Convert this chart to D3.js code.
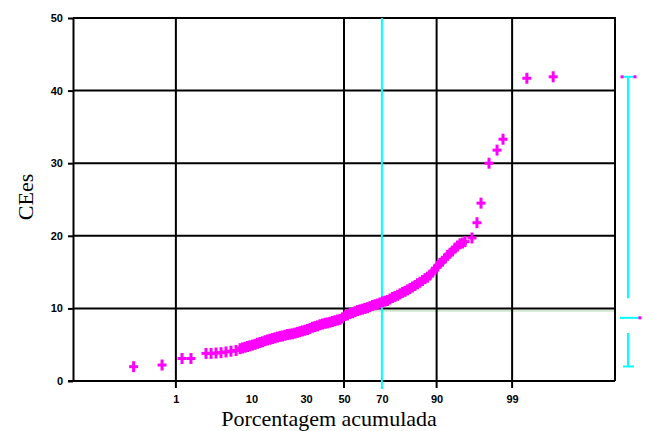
<!DOCTYPE html>
<html><head><meta charset="utf-8">
<script src="https://cdn.jsdelivr.net/npm/d3@7"></script>
<style>body{margin:0;background:#fff}svg{display:block}</style>
</head><body><svg id="c" width="651" height="431"></svg>
<script>
// ---- data ----
const yTicks = [0, 10, 20, 30, 40, 50];
const xLabelPct = [1, 10, 30, 50, 70, 90, 99];
const xLabels = ["1", "10", "30", "50", "70", "90", "99"];
const xGridPct = [1, 50, 90, 99];
const refPct = 70;                         // cyan reference line
const cumPct = [0.18, 0.59, 1.25, 1.71, 2.81, 3.29, 3.83, 4.44, 5.12, 5.89, 6.76,
  7.51, 8.01, 8.53, 9.09, 9.66, 10.27, 10.91, 11.57, 12.26, 12.97, 13.72, 14.49,
  15.29, 16.12, 16.98, 17.87, 18.79, 19.74, 20.72, 21.72, 22.75, 23.81, 24.89, 26.00,
  27.13, 28.29, 29.47, 30.68, 31.90, 33.15, 34.42, 35.69, 36.99, 38.30, 39.63, 40.97,
  42.31, 43.68, 45.03, 46.42, 47.81, 49.17, 50.55, 51.93, 53.31, 54.68, 56.05, 57.41,
  58.76, 60.10, 61.43, 62.75, 64.04, 65.34, 66.60, 67.85, 69.08, 70.29, 71.47, 72.64,
  73.77, 74.89, 75.98, 77.04, 78.08, 79.09, 80.07, 81.02, 81.94, 82.84, 83.70, 84.54,
  85.36, 86.13, 86.89, 87.60, 88.30, 88.96, 89.60, 90.21, 90.79, 91.36, 91.89, 92.39,
  92.88, 93.34, 93.77, 94.19, 94.58, 94.95, 95.30, 96.17, 96.71,
  97.10, 97.76, 98.29, 98.61, 99.43, 99.81];
const values = [1.97, 2.2, 3.1, 3.1, 3.8, 3.8, 3.85, 3.9, 4.0, 4.1, 4.2,
  4.45, 4.55, 4.65, 4.75, 4.85, 4.95, 5.05, 5.2, 5.3, 5.4, 5.55, 5.65,
  5.75, 5.85, 5.95, 6.05, 6.15, 6.2, 6.3, 6.4, 6.45, 6.5, 6.6, 6.7,
  6.8, 6.9, 7.0, 7.1, 7.25, 7.4, 7.5, 7.6, 7.75, 7.85, 7.95, 8.0,
  8.1, 8.2, 8.3, 8.4, 8.5, 8.7, 9.0, 9.1, 9.3, 9.4, 9.55, 9.7,
  9.8, 9.9, 10.0, 10.1, 10.25, 10.4, 10.5, 10.6, 10.75, 10.9, 11.0, 11.1,
  11.3, 11.5, 11.65, 11.8, 12.0, 12.2, 12.35, 12.55, 12.75, 12.95, 13.15, 13.4,
  13.6, 13.85, 14.1, 14.3, 14.6, 15.0, 15.4, 15.8, 16.2, 16.5, 16.9, 17.3,
  17.6, 17.9, 18.3, 18.6, 18.9, 19.0, 19.2, 19.7, 21.8,
  24.5, 30.0, 31.8, 33.3, 41.7, 41.9];
const rangeHi = 41.9, rangeLo = 2.0, rangeMid = 8.7, gapHi = 11.4, gapLo = 6.6;
const medianLine = 9.9;

// ---- probability scale helper (inverse normal CDF, Acklam) ----
function probit(p) {
  const a = [-3.969683028665376e+01, 2.209460984245205e+02, -2.759285104469687e+02, 1.383577518672690e+02, -3.066479806614716e+01, 2.506628277459239e+00];
  const b = [-5.447609879822406e+01, 1.615858368580409e+02, -1.556989798598866e+02, 6.680131188771972e+01, -1.328068155288572e+01];
  const c = [-7.784894002430293e-03, -3.223964580411365e-01, -2.400758277161838e+00, -2.549732539343734e+00, 4.374664141464968e+00, 2.938163982698783e+00];
  const d = [7.784695709041462e-03, 3.224671290700398e-01, 2.445134137142996e+00, 3.754408661907416e+00];
  const pl = 0.02425;
  let q, r;
  if (p < pl) {
    q = Math.sqrt(-2 * Math.log(p));
    return (((((c[0]*q+c[1])*q+c[2])*q+c[3])*q+c[4])*q+c[5]) / ((((d[0]*q+d[1])*q+d[2])*q+d[3])*q+1);
  } else if (p <= 1 - pl) {
    q = p - 0.5; r = q * q;
    return (((((a[0]*r+a[1])*r+a[2])*r+a[3])*r+a[4])*r+a[5])*q / (((((b[0]*r+b[1])*r+b[2])*r+b[3])*r+b[4])*r+1);
  } else {
    q = Math.sqrt(-2 * Math.log(1 - p));
    return -(((((c[0]*q+c[1])*q+c[2])*q+c[3])*q+c[4])*q+c[5]) / ((((d[0]*q+d[1])*q+d[2])*q+d[3])*q+1);
  }
}

const L = 73, R = 615, T = 18, B = 381;
const xz = d3.scaleLinear().domain([-3.75, 3.75]).range([L, R]);
const x = p => xz(probit(p / 100));
const y = d3.scaleLinear().domain([0, 50]).range([B, T]);

const svg = d3.select("#c");
const MAG = "#ff00ff", CY = "#00ffff";

// faint median line
svg.append("line").attr("x1", x(50)).attr("x2", R).attr("y1", y(medianLine) + 1.5).attr("y2", y(medianLine) + 1.5)
  .attr("stroke", "#cfe8cf").attr("stroke-width", 2);

// horizontal gridlines
svg.append("g").selectAll("line").data(yTicks.filter(v => v > 0)).join("line")
  .attr("x1", L).attr("x2", R).attr("y1", d => y(d)).attr("y2", d => y(d))
  .attr("stroke", "#000").attr("stroke-width", 2);
// vertical gridlines (with tick extension below the axis)
svg.append("g").selectAll("line").data(xGridPct).join("line")
  .attr("x1", d => x(d)).attr("x2", d => x(d)).attr("y1", T).attr("y2", B + 7)
  .attr("stroke", "#000").attr("stroke-width", 2);
// right border
svg.append("line").attr("x1", R).attr("x2", R).attr("y1", T - 1).attr("y2", B)
  .attr("stroke", "#000").attr("stroke-width", 2);

// axes
const yAxis = svg.append("g").attr("transform", `translate(${L},0)`)
  .call(d3.axisLeft(y).tickValues(yTicks).tickSize(5).tickPadding(5).tickSizeOuter(0));
const xAxis = svg.append("g").attr("transform", `translate(0,${B})`)
  .call(d3.axisBottom(xz).tickValues(xLabelPct.map(p => probit(p / 100)))
    .tickFormat((d, i) => xLabels[i]).tickSize(0).tickPadding(14).tickSizeOuter(0));
[yAxis, xAxis].forEach(g => {
  g.select(".domain").attr("stroke", "#000").attr("stroke-width", 2);
  g.selectAll(".tick line").attr("stroke", "#000").attr("stroke-width", 2);
  g.selectAll("text").attr("font-family", "Liberation Sans, Arial, sans-serif")
    .attr("font-size", 11).attr("font-weight", "bold").attr("fill", "#000");
});
xAxis.select(".domain").attr("d", `M${L - 5},0H${R}`);

// cyan reference line at 70%
svg.append("line").attr("x1", x(refPct)).attr("x2", x(refPct)).attr("y1", T).attr("y2", B + 8)
  .attr("stroke", CY).attr("stroke-width", 2);

// data points (+ markers)
const pts = cumPct.map((p, i) => ({ p, v: values[i] }));
const g = svg.append("g").attr("stroke", MAG).attr("stroke-width", 3);
pts.forEach(d => {
  const cx = x(d.p), cy = y(d.v);
  g.append("line").attr("x1", cx - 4.5).attr("x2", cx + 4.5).attr("y1", cy).attr("y2", cy);
  g.append("line").attr("x1", cx).attr("x2", cx).attr("y1", cy - 5.5).attr("y2", cy + 5.5);
});

// right-side range indicator
const rx = 628;
const rg = svg.append("g");
rg.append("line").attr("x1", rx).attr("x2", rx).attr("y1", y(rangeHi)).attr("y2", y(gapHi)).attr("stroke", CY).attr("stroke-width", 2);
rg.append("line").attr("x1", rx).attr("x2", rx).attr("y1", y(gapLo)).attr("y2", y(rangeLo)).attr("stroke", CY).attr("stroke-width", 2);
rg.append("line").attr("x1", rx - 6).attr("x2", rx + 7).attr("y1", y(rangeHi)).attr("y2", y(rangeHi)).attr("stroke", CY).attr("stroke-width", 2);
rg.append("line").attr("x1", rx - 5).attr("x2", rx + 6).attr("y1", y(rangeLo)).attr("y2", y(rangeLo)).attr("stroke", CY).attr("stroke-width", 2);
rg.append("line").attr("x1", rx - 8).attr("x2", rx + 12).attr("y1", y(rangeMid)).attr("y2", y(rangeMid)).attr("stroke", CY).attr("stroke-width", 2);
[[rx - 6, y(rangeHi)], [rx + 7, y(rangeHi)], [rx + 12, y(rangeMid)]].forEach(([a, b]) =>
  rg.append("rect").attr("x", a - 1.5).attr("y", b - 1.5).attr("width", 3).attr("height", 3).attr("fill", MAG));

// axis titles
svg.append("text").attr("transform", `translate(33,197) rotate(-90)`).attr("text-anchor", "middle")
  .attr("font-family", "Liberation Serif, Times New Roman, serif").attr("font-size", 22).text("CEes");
svg.append("text").attr("x", 329).attr("y", 426).attr("text-anchor", "middle")
  .attr("font-family", "Liberation Serif, Times New Roman, serif").attr("font-size", 22).text("Porcentagem acumulada");
</script></body></html>
